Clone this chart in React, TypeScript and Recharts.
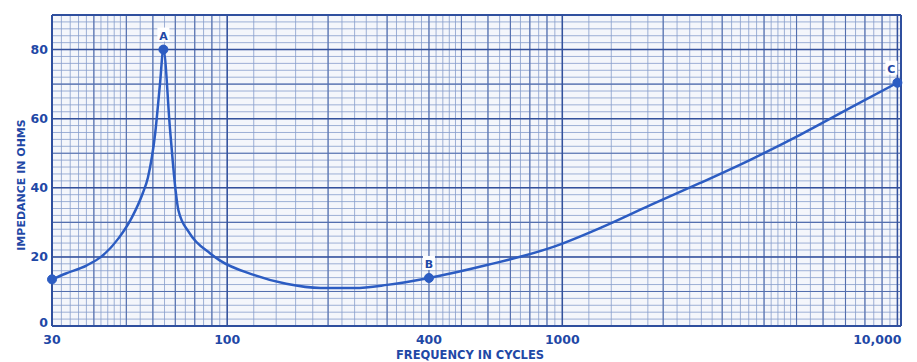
import React from 'react';
import { LineChart, Line, XAxis, YAxis, ReferenceLine, ReferenceDot, ReferenceArea } from 'recharts';

const frequencies = [30, 33, 38, 42, 47.5, 52, 56, 58, 61, 63, 64.5, 67.5, 70, 71.5, 77, 89, 95, 120, 150, 190, 240, 300, 400, 600, 940, 1320, 1830, 2580, 3640, 5140, 7250, 10000];
const impedance = [13.5, 15.2, 17.5, 20, 25.5, 31.5, 38.5, 43, 56, 70, 80, 57, 40, 33.5, 27, 21, 19, 14.8, 12.2, 11, 11, 11.9, 13.9, 17.7, 22.9, 28.7, 35, 41.4, 48.1, 55.4, 63.2, 70.4];

const markFreq = [30, 64.5, 400, 10000];
const markValue = [13.5, 80, 13.9, 70.4];
const markLabel = ['', 'A', 'B', 'C'];

const xTicks = [30, 100, 400, 1000, 10000];
const xTickLabels = ['30', '100', '400', '1000', '10,000'];
const yTicks = [0, 20, 40, 60, 80];

const X_MIN = 30;
const X_MAX = 10250;
const Y_MAX = 90;

const data = frequencies.map((f, i) => ({ f, z: impedance[i] }));

// graph-paper rulings
const minorX: number[] = [];
const majorX: number[] = [];
const heavyX = [100, 1000, 10000];
[1, 10, 100, 1000].forEach((d) => {
  for (let v = 10 * d; v < 100 * d; v += v < 50 * d ? 2 * d : 5 * d) {
    if (v >= X_MIN && v <= X_MAX) minorX.push(v);
  }
});
[10, 100, 1000].forEach((d) => {
  for (let k = 1; k <= 10; k++) {
    const v = k * d;
    if (v >= X_MIN && v <= X_MAX && !heavyX.includes(v)) majorX.push(v);
  }
});
const minorY: number[] = [];
for (let v = 2; v < Y_MAX; v += 2) minorY.push(v);
const majorY = [10, 30, 50, 70];
const heavyY = [20, 40, 60, 80];

const BLUE = '#2c5cc2';
const TEXT = '#1f48a6';
const FONT = '"DejaVu Sans", Arial, sans-serif';

const XTick = (props: any) => {
  const { x, y, payload } = props;
  const i = xTicks.indexOf(payload.value);
  const last = i === xTicks.length - 1;
  return (
    <text x={last ? x + 4 : x} y={y} dy="0.71em" textAnchor={last ? 'end' : 'middle'} fill={TEXT} fontSize={12.5} fontWeight={700} fontFamily={FONT}>
      {i >= 0 ? xTickLabels[i] : payload.value}
    </text>
  );
};

const YTick = (props: any) => {
  const { x, y, payload } = props;
  return (
    <text x={x} y={payload.value === 0 ? y - 3 : y} dy="0.355em" textAnchor="end" fill={TEXT} fontSize={12.5} fontWeight={700} fontFamily={FONT}>
      {payload.value}
    </text>
  );
};

const MarkLabel = (text: string, dx: number) => (props: any) => {
  const vb = props.viewBox || {};
  const cx = (vb.x ?? 0) + (vb.width ?? 0) / 2 + dx;
  const cy = (vb.y ?? 0) + (vb.height ?? 0) / 2;
  if (!text) return null;
  return (
    <g>
      <rect x={cx - 6} y={cy - 22} width={12} height={14} fill="#ffffff" />
      <text x={cx} y={cy - 10} textAnchor="middle" fill={TEXT} fontSize={11} fontWeight={700} fontFamily={FONT}>
        {text}
      </text>
    </g>
  );
};

export default function App() {
  return (
    <div style={{ width: 905, height: 354, fontFamily: FONT }}>
      <LineChart width={905} height={354} data={data} margin={{ top: 7, right: 12, bottom: 0, left: 0 }}>
        <XAxis
          dataKey="f"
          type="number"
          scale="log"
          domain={[X_MIN, X_MAX]}
          ticks={xTicks}
          allowDataOverflow
          axisLine={false}
          tickLine={false}
          tickSize={0}
          tickMargin={9}
          height={36}
          tick={<XTick />}
          interval={0}
        />
        <YAxis
          type="number"
          domain={[0, Y_MAX]}
          ticks={yTicks}
          width={44}
          axisLine={false}
          tickLine={false}
          tickSize={0}
          tickMargin={4}
          interval={0}
          tick={<YTick />}
        />
        <ReferenceArea x1={X_MIN} x2={X_MAX} y1={0} y2={Y_MAX} fill="#f4f6fb" fillOpacity={1} stroke="none" />
        {minorX.map((v) => (
          <ReferenceLine key={'mx' + v} x={v} stroke="#879dcb" strokeWidth={0.8} />
        ))}
        {minorY.map((v) => (
          <ReferenceLine key={'my' + v} y={v} stroke="#879dcb" strokeWidth={0.8} />
        ))}
        {majorX.map((v) => (
          <ReferenceLine key={'Mx' + v} x={v} stroke="#546fae" strokeWidth={1.1} />
        ))}
        {majorY.map((v) => (
          <ReferenceLine key={'My' + v} y={v} stroke="#546fae" strokeWidth={1.1} />
        ))}
        {heavyX.map((v) => (
          <ReferenceLine key={'Hx' + v} x={v} stroke="#34519c" strokeWidth={1.5} />
        ))}
        {heavyY.map((v) => (
          <ReferenceLine key={'Hy' + v} y={v} stroke="#34519c" strokeWidth={1.5} />
        ))}
        <ReferenceLine x={X_MIN} stroke="#2f4f9e" strokeWidth={2} />
        <ReferenceLine x={X_MAX} stroke="#2f4f9e" strokeWidth={2} />
        <ReferenceLine y={0} stroke="#2f4f9e" strokeWidth={2} />
        <ReferenceLine y={Y_MAX} stroke="#2f4f9e" strokeWidth={2} />
        <Line type="monotone" dataKey="z" stroke={BLUE} strokeWidth={2.5} dot={false} isAnimationActive={false} />
        {markFreq.map((f, i) => (
          <ReferenceDot
            key={'d' + i}
            x={f}
            y={markValue[i]}
            r={4.5}
            fill={BLUE}
            stroke={BLUE}
            ifOverflow="visible"
            label={MarkLabel(markLabel[i], i === 3 ? -6 : 0)}
          />
        ))}
        <text x={14} y={177} transform="rotate(-90 14 177)" textAnchor="middle" dominantBaseline="middle" fill={TEXT} fontSize={11} fontWeight={700} fontFamily={FONT}>
          IMPEDANCE IN OHMS
        </text>
        <text x={462} y={351} textAnchor="middle" fill={TEXT} fontSize={11.5} fontWeight={700} fontFamily={FONT}>
          FREQUENCY IN CYCLES
        </text>
      </LineChart>
    </div>
  );
}
